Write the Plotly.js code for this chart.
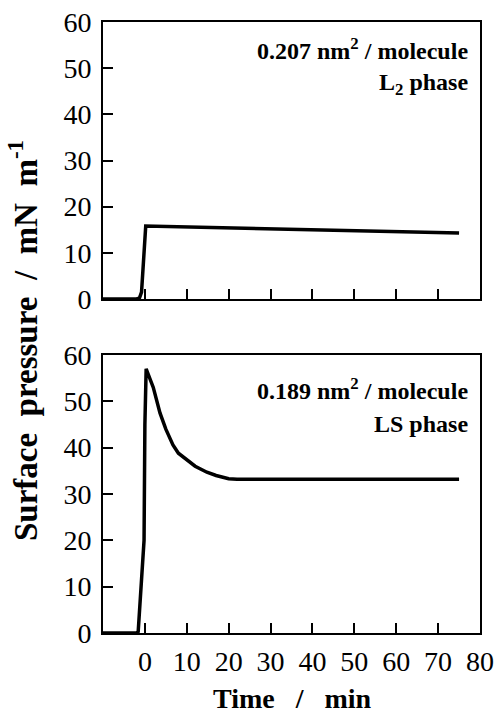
<!DOCTYPE html>
<html>
<head>
<meta charset="utf-8">
<script src="https://cdn.plot.ly/plotly-3.0.1.min.js"></script>
<style>html,body{margin:0;padding:0;background:#fff;}#chart{width:497px;height:713px;}</style>
</head>
<body>
<div id="chart"></div>
<script>
// Top panel: 0.207 nm^2/molecule, L2 phase
const timeTop = [-10, -2, -1.3, -0.8, 0.2, 10, 20, 30, 40, 50, 60, 70, 75];
const pressureTop = [0, 0, 0.2, 1.5, 15.8, 15.6, 15.4, 15.2, 15.0, 14.8, 14.6, 14.4, 14.3];
// Bottom panel: 0.189 nm^2/molecule, LS phase
const timeBottom = [-10, -2, -1.6, -0.2, 0, 0.3, 2, 3.6, 5, 6.7, 8, 10, 12, 14.8, 17, 20, 22, 30, 40, 50, 60, 70, 75];
const pressureBottom = [0, 0, 0.3, 20, 45, 57, 53, 47.5, 44, 40.6, 38.8, 37.3, 36, 34.7, 34, 33.3, 33.2, 33.2, 33.2, 33.2, 33.2, 33.2, 33.2];
const xTicks = [0, 10, 20, 30, 40, 50, 60, 70, 80];
const yTicks = [0, 10, 20, 30, 40, 50, 60];
const labelsTop = ['0.207 nm<sup>2</sup> / molecule', 'L<sub>2</sub> phase'];
const labelsBottom = ['0.189 nm<sup>2</sup> / molecule', 'LS phase'];

const fontFam = 'Liberation Serif, Times New Roman, serif';
const lineStyle = {color: '#000', width: 3.5};

const traces = [
  {x: timeTop, y: pressureTop, xaxis: 'x', yaxis: 'y', mode: 'lines', line: lineStyle, hoverinfo: 'skip'},
  {x: timeBottom, y: pressureBottom, xaxis: 'x2', yaxis: 'y2', mode: 'lines', line: lineStyle, hoverinfo: 'skip'}
];

function axis(extra) {
  return Object.assign({
    showline: true, mirror: true, linecolor: '#000', linewidth: 2,
    ticks: 'inside', ticklen: 10, tickwidth: 2, tickcolor: '#000',
    showgrid: false, zeroline: false,
    tickfont: {family: fontFam, size: 28, color: '#000'}
  }, extra);
}

function label(text, x, y) {
  return {xref: 'paper', yref: 'paper', x: x, y: y, xanchor: 'right', yanchor: 'middle', align: 'right',
    showarrow: false, text: '<b>' + text + '</b>', font: {family: fontFam, size: 24, color: '#000'}};
}

const layout = {
  width: 497, height: 713,
  margin: {l: 103, r: 17, t: 22, b: 80},
  paper_bgcolor: '#fff', plot_bgcolor: '#fff',
  showlegend: false,
  font: {family: fontFam, size: 28, color: '#000'},
  xaxis: axis({domain: [0, 1], range: [-10, 80], tickmode: 'array', tickvals: xTicks, showticklabels: false, anchor: 'y'}),
  yaxis: axis({domain: [0.5466, 1], range: [0, 60], tickmode: 'array', tickvals: yTicks, anchor: 'x', ticklabelstandoff: 4}),
  xaxis2: axis({domain: [0, 1], range: [-10, 80], tickmode: 'array', tickvals: xTicks, anchor: 'y2', ticklabelstandoff: 2}),
  yaxis2: axis({domain: [0, 0.455], range: [0, 60], tickmode: 'array', tickvals: yTicks, anchor: 'x2', ticklabelstandoff: 4}),
  annotations: [
    {xref: 'paper', yref: 'paper', x: -0.212, y: 0.478, xanchor: 'center', yanchor: 'middle', textangle: -90, showarrow: false,
     text: '<b>Surface&nbsp;&nbsp;pressure&nbsp;&nbsp;/&nbsp;&nbsp;mN&nbsp;&nbsp;m<sup>-1</sup></b>', font: {family: fontFam, size: 33, color: '#000'}},
    {xref: 'paper', yref: 'paper', x: 0.503, y: -0.108, xanchor: 'center', yanchor: 'middle', showarrow: false,
     text: '<b>Time&nbsp;&nbsp;&nbsp;/&nbsp;&nbsp;&nbsp;min</b>', font: {family: fontFam, size: 28, color: '#000'}},
    label(labelsTop[0], 0.9735, 0.9558),
    label(labelsTop[1], 0.9735, 0.8985),
    label(labelsBottom[0], 0.9735, 0.3993),
    label(labelsBottom[1], 0.9735, 0.342)
  ]
};

Plotly.newPlot('chart', traces, layout, {staticPlot: true, displayModeBar: false});
</script>
</body>
</html>
